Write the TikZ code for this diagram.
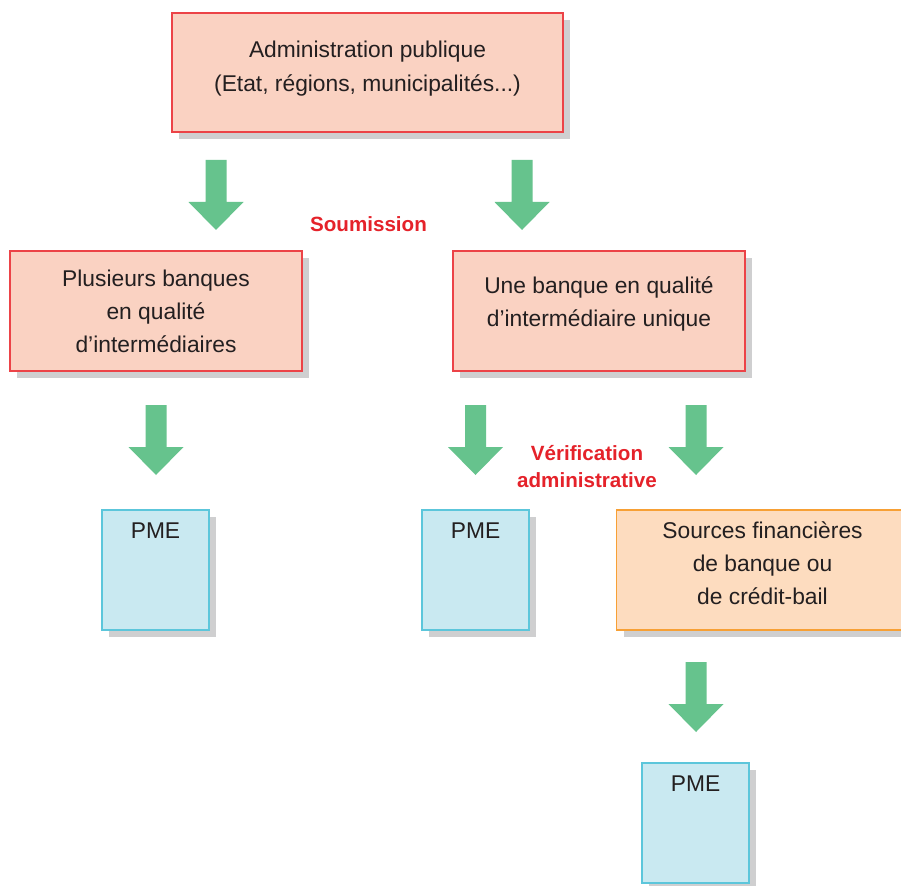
\documentclass[tikz,border=0pt]{standalone}
\usepackage{fontspec}
\setmainfont{Liberation Sans}
\usetikzlibrary{shadows}
\definecolor{pinkfill}{HTML}{FAD2C2}
\definecolor{pinkdraw}{HTML}{EC4347}
\definecolor{bluefill}{HTML}{C9E9F1}
\definecolor{bluedraw}{HTML}{5CC6DB}
\definecolor{orfill}{HTML}{FDDCBF}
\definecolor{ordraw}{HTML}{F7A035}
\definecolor{arrgreen}{HTML}{66C38D}
\definecolor{shadowc}{HTML}{CFCFD0}
\definecolor{labred}{HTML}{E5222A}
\definecolor{txt}{HTML}{231F20}
\tikzset{
  boxbase/.style={rectangle, inner sep=0pt, line width=1.4pt,
    drop shadow={shadow xshift=7pt, shadow yshift=-7pt, fill=shadowc, opacity=1, draw=none}},
  pinkbox/.style={boxbase, fill=pinkfill, draw=pinkdraw, minimum width=292pt, minimum height=120pt},
  bluebox/.style={boxbase, fill=bluefill, draw=bluedraw, minimum width=107pt, minimum height=120pt},
  orbox/.style={boxbase, fill=orfill, draw=ordraw, minimum width=292pt, minimum height=120pt},
  boxtext/.style={anchor=base, inner sep=0pt, align=center, text=txt,
    font=\fontsize{22.8}{33}\selectfont},
  redlabel/.style={anchor=base, inner sep=0pt, align=center, text=labred,
    font=\fontsize{20.6}{27}\selectfont\bfseries},
  blockarrow/.pic={\fill[arrgreen] (-10.5,0) -- (10.5,0) -- (10.5,42) -- (27.5,42) -- (0,70)
     -- (-27.5,42) -- (-10.5,42) -- cycle;}
}
\begin{document}
\begin{tikzpicture}[x=1pt,y=-1pt]
\clip (0,0) rectangle (901,885);
\fill[white] (0,0) rectangle (901,885);

% boxes
\node[pinkbox, minimum width=391pt, minimum height=119pt] (admin) at (367.5,72.5) {};
\node[pinkbox] (plus) at (156,311) {};
\node[pinkbox] (une) at (599,311) {};
\node[bluebox] (pme1) at (155.5,570) {};
\node[bluebox] (pme2) at (475.5,570) {};
\node[orbox] (src) at (762.5,570) {};
\node[bluebox] (pme3) at (695.5,823) {};

% texts (anchor base = baseline of last line)
\node[boxtext] (admint) at (367.5,91.5) {Administration publique\\[0.5pt](Etat, régions, municipalités...)};
\node[boxtext] (plust) at (156,352) {Plusieurs banques\\en qualité\\d’intermédiaires};
\node[boxtext] (unet) at (599,326) {Une banque en qualité\\d’intermédiaire unique};
\node[boxtext] (srct) at (762.5,604) {Sources financières\\de banque ou\\de crédit-bail};
\node[boxtext] (pme1t) at (155.5,538) {PME};
\node[boxtext] (pme2t) at (475.5,538) {PME};
\node[boxtext] (pme3t) at (695.5,791) {PME};

% labels
\node[redlabel] (soum) at (368.5,232) {Soumission};
\node[redlabel] (verif) at (587,487) {Vérification\\administrative};

% block arrows
\coordinate (a1) at (216,160);
\coordinate (a2) at (522,160);
\coordinate (a3) at (156,405);
\coordinate (a4) at (475.5,405);
\coordinate (a5) at (696,405);
\coordinate (a6) at (696,662);
\foreach \c in {a1,a2,a3,a4,a5,a6} { \pic at (\c) {blockarrow}; }
\end{tikzpicture}
\end{document}
